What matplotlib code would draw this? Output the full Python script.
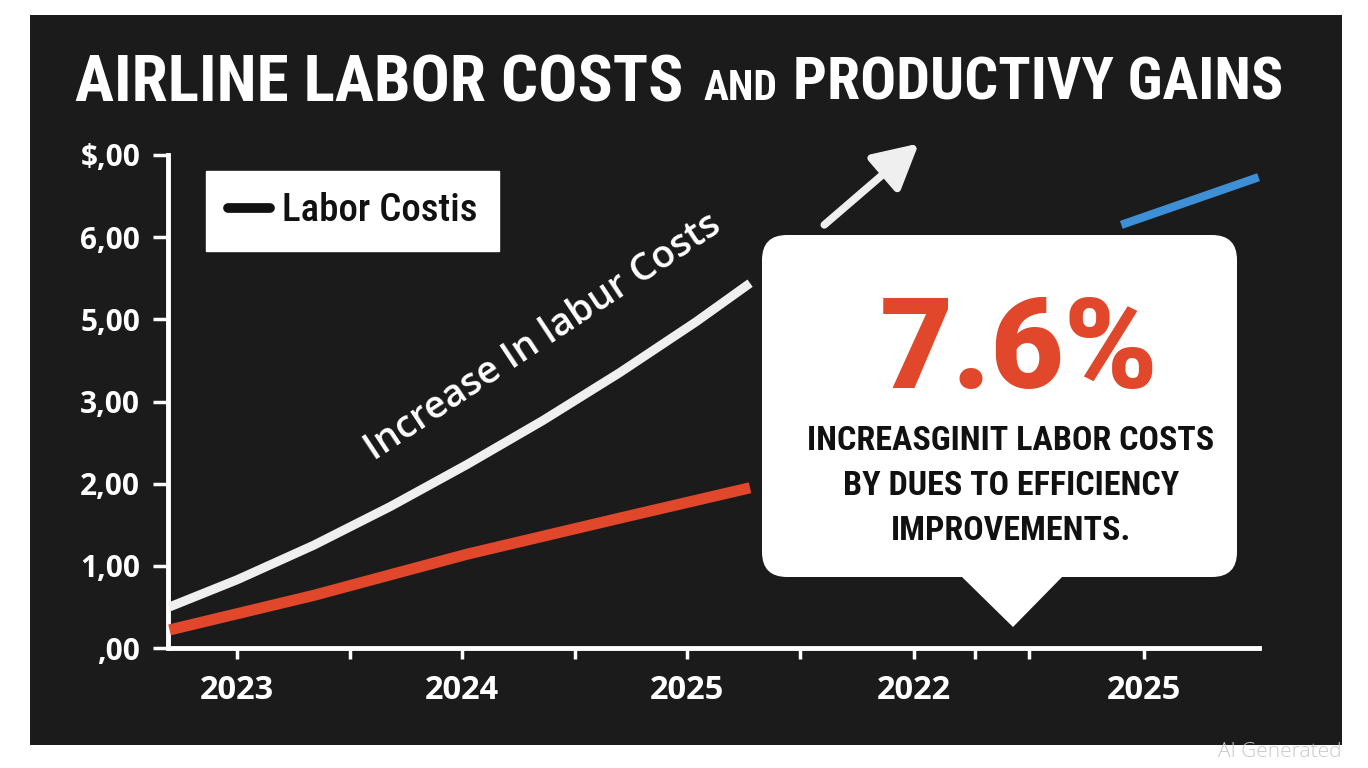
import matplotlib
matplotlib.use("Agg")
import matplotlib.pyplot as plt
from matplotlib.patches import Rectangle, FancyBboxPatch, Polygon
from matplotlib.lines import Line2D

# values
year_pos = [0, 1, 2, 3.01, 4.03]
year_labels = ["2023", "2024", "2025", "2022", "2025"]
minor_pos = [0.5, 1.5, 2.5, 3.28, 3.52]
value_pos = [0, 1, 2, 3, 4, 5, 6]
value_labels = [",00", "1,00", "2,00", "3,00", "5,00", "6,00", "$,00"]

labor_x = [-0.30, 0.0, 0.34, 0.68, 1.02, 1.36, 1.70, 2.04, 2.28]
labor_y = [0.50, 0.83, 1.25, 1.72, 2.23, 2.77, 3.35, 3.97, 4.44]
unit_x = [-0.30, 0.34, 1.02, 1.70, 2.28]
unit_y = [0.22, 0.64, 1.14, 1.58, 1.95]
prod_x = [3.93, 4.54]
prod_y = [5.15, 5.73]
arrow_from = (2.61, 5.15)
arrow_to = (3.03, 6.14)

BG = "#1b1b1b"
RED = "#e0472b"
BLUE = "#3d8fd6"
WHITE = "#efefef"
INK = "#111111"

COND = "Roboto Condensed"
SANS = "Open Sans"

fig = plt.figure(figsize=(13.68, 7.68), dpi=100, facecolor="white")
fig.patches.append(Rectangle((30 / 1368, 1 - 745 / 768), 1312 / 1368, 730 / 768,
                             transform=fig.transFigure, fc=BG, ec="none", zorder=-10))

ax = fig.add_axes([168 / 1368, 1 - 648 / 768, 1091 / 1368, 493 / 768])
ax.set_facecolor("none")
ax.set_xlim(-0.307, 4.542)
ax.set_ylim(0, 6)

ax.plot(labor_x, labor_y, color=WHITE, lw=6.5, solid_capstyle="butt",
        solid_joinstyle="round", zorder=3)
ax.plot(unit_x, unit_y, color=RED, lw=8, solid_capstyle="butt",
        solid_joinstyle="round", zorder=3)
ax.plot(prod_x, prod_y, color=BLUE, lw=6, solid_capstyle="butt", zorder=3, clip_on=False)
ax.annotate("", xy=arrow_to, xytext=arrow_from,
            arrowprops=dict(arrowstyle="-|>,head_length=1.35,head_width=0.72",
                            color=WHITE, lw=5.5, shrinkA=0, shrinkB=0,
                            mutation_scale=20), annotation_clip=False)

for s in ["top", "right"]:
    ax.spines[s].set_visible(False)
for s in ["left", "bottom"]:
    ax.spines[s].set_color("white")
    ax.spines[s].set_linewidth(3.5)
ax.set_xticks(year_pos)
ax.set_xticklabels(year_labels)
ax.set_xticks(minor_pos, minor=True)
ax.set_yticks(value_pos)
ax.set_yticklabels(value_labels)
ax.tick_params(which="both", colors="white", width=2.5)
ax.tick_params(axis="x", which="both", length=8, pad=11, labelsize=23.5)
ax.tick_params(axis="y", length=11, pad=9, labelsize=21.5)
for t in ax.get_xticklabels() + ax.get_yticklabels():
    t.set_fontfamily(SANS)
    t.set_fontweight("bold")
    t.set_color("white")

ax.text(0.61, 2.27, "Increase In labur Costs", rotation=33.5, rotation_mode="anchor",
        ha="left", va="baseline", color="white", fontsize=27.5, fontfamily=SANS,
        fontweight="semibold", zorder=4)

leg_handle = Line2D([], [], color=INK, lw=7, solid_capstyle="round")
leg = ax.legend([leg_handle], ["Labor Costis"], loc="upper left",
                bbox_to_anchor=(0.035, 0.968), borderaxespad=0, fancybox=False,
                facecolor="white", edgecolor="white", framealpha=1,
                handlelength=1.1, handletextpad=0.3, borderpad=0.55,
                prop=dict(family=COND, size=28, weight="medium"))
for t in leg.get_texts():
    t.set_color(INK)

# callout bubble, placed in pixels (1 inch = 100 px)
px = fig.dpi_scale_trans
bubble = FancyBboxPatch((7.62, 1.91), 4.75, 3.42, boxstyle="round,pad=0,rounding_size=0.25",
                        transform=px, fc="white", ec="none", zorder=6, clip_on=False)
ax.add_patch(bubble)
ax.add_patch(Polygon([(9.61, 1.92), (10.63, 1.92), (10.13, 1.41)], closed=True,
                     transform=px, fc="white", ec="none", zorder=6, clip_on=False))
ax.text(10.19, 3.80, "7.6%", transform=px, ha="center", va="baseline", color=RED,
        fontsize=91, fontweight=900, fontfamily="Roboto", zorder=7)
for i, line in enumerate(["INCREASGINIT LABOR COSTS", "BY DUES TO EFFICIENCY",
                          "IMPROVEMENTS."]):
    ax.text(10.11, 3.18 - 0.45 * i, line, transform=px, ha="center", va="baseline",
            color=INK, fontsize=24.5, fontweight="bold", fontfamily=COND, zorder=7)

# title
fig.text(75 / 1368, 1 - 101 / 768, "AIRLINE LABOR COSTS", ha="left", va="baseline",
         color="white", fontsize=47, fontweight="bold", fontfamily=COND)
fig.text(704 / 1368, 1 - 100 / 768, "AND", ha="left", va="baseline",
         color="white", fontsize=30, fontweight="bold", fontfamily=COND)
fig.text(1283 / 1368, 1 - 100 / 768, "PRODUCTIVY GAINS", ha="right", va="baseline",
         color="white", fontsize=43, fontweight="bold", fontfamily=COND)

fig.text(1342 / 1368, 1 - 757 / 768, "AI Generated", ha="right", va="baseline",
         color="#c9c9c9", fontsize=15, fontfamily=SANS, fontweight="light")

fig.savefig("out.png", dpi=100, facecolor="white")
